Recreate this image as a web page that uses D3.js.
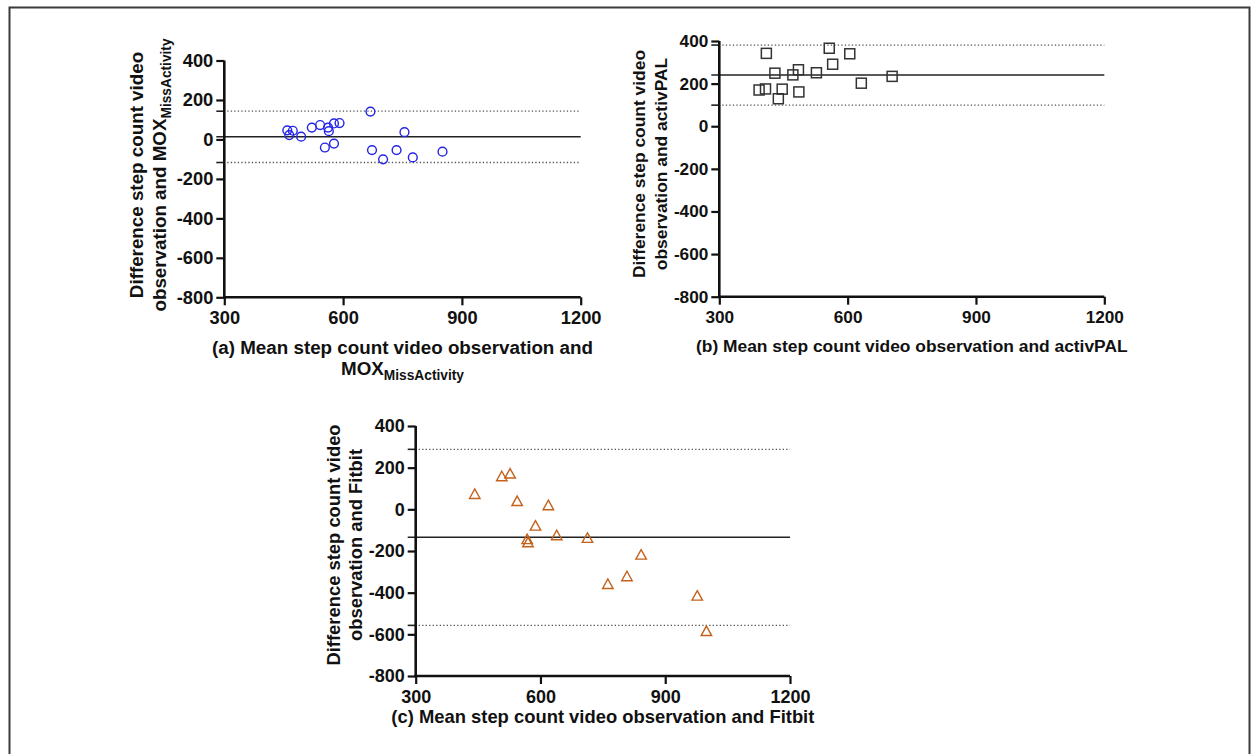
<!DOCTYPE html>
<html>
<head>
<meta charset="utf-8">
<script src="https://cdn.jsdelivr.net/npm/d3@7"></script>
<style>
  html, body { margin: 0; padding: 0; background: #fff; }
  svg { display: block; }
  text { font-family: "Liberation Sans", Arial, sans-serif; font-weight: bold; fill: #111; }
</style>
</head>
<body>
<svg id="chart" width="1254" height="754"></svg>
<script>
// ---------- data ----------
const xTicks = [300, 600, 900, 1200];
const yTicks = [400, 200, 0, -200, -400, -600, -800];

// (a) video observation vs MOX_MissActivity
const meanA = [459, 473, 464, 494, 521, 542, 562, 564, 577, 591, 554, 577, 669, 673, 755, 701, 735, 776, 851];
const diffA = [46, 44, 22, 14, 60, 73, 60, 42, 81, 83, -41, -21, 141, -54, 37, -101, -54, -91, -62];
const biasA = 13;
const loaA = [143, -117];

// (b) video observation vs activPAL
const meanB = [393, 408, 410, 430, 438, 447, 472, 485, 486, 527, 557, 565, 605, 632, 704];
const diffB = [170, 175, 342, 249, 129, 174, 241, 265, 161, 251, 366, 291, 340, 202, 234];
const biasB = 240;
const loaB = [381, 99];

// (c) video observation vs Fitbit
const meanC = [442, 507, 527, 544, 619, 588, 568, 570, 639, 713, 842, 808, 762, 977, 999];
const diffC = [75, 160, 173, 41, 21, -77, -142, -157, -123, -136, -216, -320, -357, -413, -583];
const biasC = -134;
const loaC = [288, -557];

// ---------- drawing ----------
const svg = d3.select("#chart");

// outer frame
svg.append("rect")
  .attr("x", 9.5).attr("y", 7.5)
  .attr("width", 1240).attr("height", 780)
  .attr("fill", "none").attr("stroke", "#3a3a3a").attr("stroke-width", 2);

function drawPanel(p) {
  const x = d3.scaleLinear().domain([300, 1200]).range([p.x0, p.x1]);
  const y = d3.scaleLinear().domain([-800, 400]).range([p.y1, p.y0]);
  const g = svg.append("g");

  // reference lines (limits of agreement dotted, bias solid)
  p.loa.forEach(v => {
    g.append("line").attr("x1", p.x0 - 8).attr("x2", p.x0)
      .attr("y1", y(v)).attr("y2", y(v))
      .attr("stroke", "#222").attr("stroke-width", 1.6);
    g.append("line").attr("x1", p.x0 + 3).attr("x2", x(1200))
      .attr("y1", y(v)).attr("y2", y(v))
      .attr("stroke", "#555").attr("stroke-width", 1.3)
      .attr("stroke-dasharray", "1.3,2.2");
  });
  g.append("line").attr("x1", p.x0 - 8).attr("x2", x(1200))
    .attr("y1", y(p.bias)).attr("y2", y(p.bias))
    .attr("stroke", "#222").attr("stroke-width", 1.5);

  // axes
  const yAxis = d3.axisLeft(y).tickValues(yTicks).tickSize(8).tickSizeOuter(0)
    .tickPadding(3).tickFormat(d => String(d));
  const xAxis = d3.axisBottom(x).tickValues(xTicks).tickSize(8).tickSizeOuter(0)
    .tickPadding(6).tickFormat(d => String(d));

  const ya = g.append("g").attr("transform", `translate(${p.x0},0)`).call(yAxis);
  const xa = g.append("g").attr("transform", `translate(0,${p.y1})`).call(xAxis);
  [ya, xa].forEach(a => {
    a.select(".domain").attr("stroke", "#111").attr("stroke-width", 2.6);
    a.selectAll(".tick line").attr("stroke", "#111").attr("stroke-width", 2.2);
    a.selectAll(".tick text").attr("font-size", p.tickFont).attr("fill", "#111")
      .attr("font-family", "Liberation Sans, Arial, sans-serif").attr("font-weight", "bold");
  });
  ya.select(".domain").attr("d", `M0,${y(400)}V${p.y1 + 1.3}`);
  xa.select(".domain").attr("d", `M${p.x0 - 1.3},0H${x(1200)}`);

  // markers
  const pts = p.mean.map((m, i) => [m, p.diff[i]]);
  const mk = g.append("g");
  if (p.shape === "circle") {
    mk.selectAll("circle").data(pts).join("circle")
      .attr("cx", d => x(d[0])).attr("cy", d => y(d[1])).attr("r", 4.4)
      .attr("fill", "none").attr("stroke", p.color).attr("stroke-width", 1.4);
  } else if (p.shape === "square") {
    mk.selectAll("rect").data(pts).join("rect")
      .attr("x", d => x(d[0]) - 5).attr("y", d => y(d[1]) - 5)
      .attr("width", 10).attr("height", 10)
      .attr("fill", "none").attr("stroke", p.color).attr("stroke-width", 1.5);
  } else {
    const w = 10.5, h = 9.5;
    mk.selectAll("path").data(pts).join("path")
      .attr("d", d => {
        const cx = x(d[0]), cy = y(d[1]);
        return `M${cx},${cy - h / 2}L${cx + w / 2},${cy + h / 2}L${cx - w / 2},${cy + h / 2}Z`;
      })
      .attr("fill", "none").attr("stroke", p.color).attr("stroke-width", 1.4)
      .attr("stroke-linejoin", "miter");
  }

  // y title (two rotated lines)
  const yc = p.yTitleCenter;
  g.append("text").attr("transform", `translate(${p.yTitleX1},${yc}) rotate(-90)`)
    .attr("text-anchor", "middle").attr("font-size", p.titleFont).text(p.yTitle1);
  const t2 = g.append("text").attr("transform", `translate(${p.yTitleX2},${yc}) rotate(-90)`)
    .attr("text-anchor", "middle").attr("font-size", p.titleFont);
  t2.append("tspan").text(p.yTitle2);
  if (p.yTitle2Sub) {
    t2.append("tspan").attr("font-size", p.titleFont * 0.73).attr("dy", 5).text(p.yTitle2Sub);
  }

  // x title
  const xc = (p.x0 + p.x1) / 2;
  g.append("text").attr("x", xc).attr("y", p.xTitleY)
    .attr("text-anchor", "middle").attr("font-size", p.titleFont).text(p.xTitle1);
  if (p.xTitle2) {
    const t = g.append("text").attr("x", xc).attr("y", p.xTitleY + 21)
      .attr("text-anchor", "middle").attr("font-size", p.titleFont);
    t.append("tspan").text(p.xTitle2);
    t.append("tspan").attr("font-size", p.titleFont * 0.73).attr("dy", 5).text(p.xTitle2Sub);
  }
}

drawPanel({
  x0: 224.3, x1: 580.7, y0: 60.5, y1: 297.3,
  mean: meanA, diff: diffA, bias: biasA, loa: loaA,
  shape: "circle", color: "#2424e8", tickFont: 18.3, titleFont: 18.8,
  yTitle1: "Difference step count video", yTitle2: "observation and MOX", yTitle2Sub: "MissActivity",
  yTitleX1: 143, yTitleX2: 166, yTitleCenter: 175,
  xTitle1: "(a) Mean step count video observation and", xTitle2: "MOX", xTitle2Sub: "MissActivity",
  xTitleY: 354
});

drawPanel({
  x0: 719.3, x1: 1104.3, y0: 41, y1: 296.7,
  mean: meanB, diff: diffB, bias: biasB, loa: loaB,
  shape: "square", color: "#333333", tickFont: 17.2, titleFont: 17.4,
  yTitle1: "Difference step count video", yTitle2: "observation and activPAL",
  yTitleX1: 645, yTitleX2: 667, yTitleCenter: 164,
  xTitle1: "(b) Mean step count video observation and activPAL",
  xTitleY: 352
});

drawPanel({
  x0: 415.7, x1: 790, y0: 426, y1: 676,
  mean: meanC, diff: diffC, bias: biasC, loa: loaC,
  shape: "triangle", color: "#c4621c", tickFont: 18, titleFont: 18.4,
  yTitle1: "Difference step count video", yTitle2: "observation and Fitbit",
  yTitleX1: 340, yTitleX2: 362, yTitleCenter: 545,
  xTitle1: "(c) Mean step count video observation and Fitbit",
  xTitleY: 723
});
</script>
</body>
</html>
